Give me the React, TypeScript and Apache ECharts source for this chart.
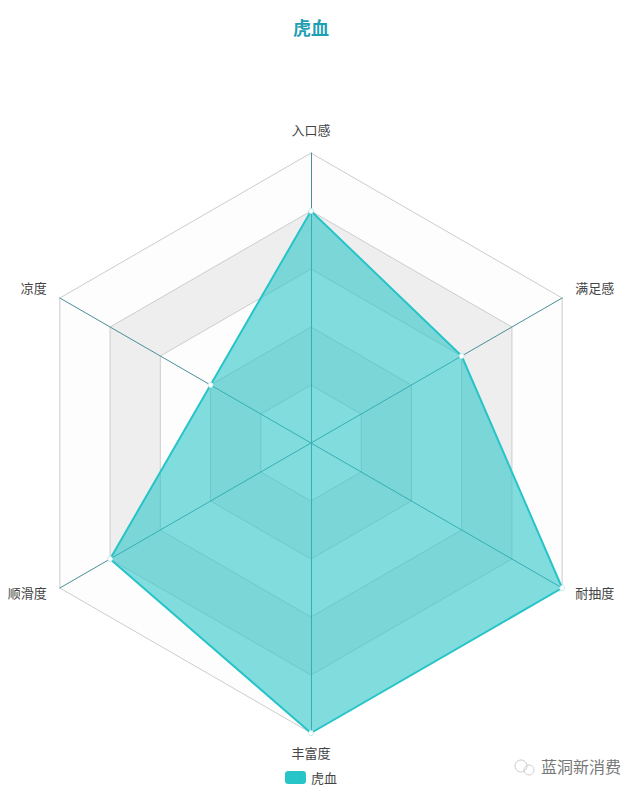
import React, { useEffect, useRef } from "react";
import * as echarts from "echarts";

const seriesName = "虎血";
const indicators = ["入口感", "凉度", "顺滑度", "丰富度", "耐抽度", "满足感"];
const sideIndicators = ["凉度", "顺滑度", "耐抽度", "满足感"];
const values = [4, 2, 4, 5, 5, 3];
const maxValue = 5;
const watermark = "蓝洞新消费";
const FONT = '"Noto Sans CJK SC", "Noto Sans", sans-serif';

export default function App() {
  const ref = useRef<HTMLDivElement>(null);
  useEffect(() => {
    const chart = echarts.init(ref.current!, null, { renderer: "svg" });
    chart.setOption({
      animation: false,
      backgroundColor: "#fff",
      title: {
        text: seriesName,
        left: 288,
        top: 13,
        textStyle: { color: "#1f9fb4", fontSize: 18, fontWeight: "bold", fontFamily: FONT },
      },
      legend: {
        data: [seriesName],
        top: 766,
        left: 280,
        itemWidth: 21,
        itemHeight: 13,
        itemGap: 5,
        icon: "roundRect",
        itemStyle: { color: "#27c4c8", borderWidth: 0 },
        textStyle: { color: "#444", fontSize: 13, fontFamily: FONT },
      },
      radar: {
        center: [311, 443],
        radius: 290,
        startAngle: 90,
        splitNumber: 5,
        indicator: indicators.map((name) => ({ name, max: maxValue, min: 0 })),
        axisName: {
          color: "#444",
          fontSize: 13,
          fontFamily: FONT,
          padding: [-2, 0, 2, 0],
          formatter: (name: string) =>
            sideIndicators.includes(name) ? `{t|${name}}\n{s| }` : `{t|${name}}`,
          rich: {
            t: { color: "#444", fontSize: 13, fontFamily: FONT },
            s: { fontSize: 2, lineHeight: 2 },
          },
        },
        nameGap: 15,
        axisLine: { lineStyle: { color: "#4a8f98", width: 1 } },
        axisTick: { show: false },
        splitLine: { lineStyle: { color: "#ccc", width: 1 } },
        splitArea: {
          show: true,
          areaStyle: { color: ["rgba(250,250,250,0.3)", "rgba(200,200,200,0.3)"] },
        },
      },
      series: [
        {
          name: seriesName,
          type: "radar",
          symbol: "circle",
          symbolSize: 5,
          itemStyle: { color: "#fff", borderColor: "#bfe9ea", borderWidth: 1 },
          lineStyle: { color: "#27c4c8", width: 2 },
          areaStyle: { color: "#27c4c8", opacity: 0.58 },
          data: [{ name: seriesName, value: values }],
        },
      ],
      graphic: [
        {
          type: "circle",
          shape: { cx: 521, cy: 766, r: 6 },
          style: { fill: "none", stroke: "#ccc", lineWidth: 1 },
        },
        {
          type: "circle",
          shape: { cx: 529, cy: 770, r: 5 },
          style: { fill: "none", stroke: "#ccc", lineWidth: 1 },
        },
        {
          type: "text",
          x: 541,
          y: 758,
          style: { text: watermark, fill: "#777", fontSize: 16, fontFamily: FONT },
        },
      ],
    });
    return () => chart.dispose();
  }, []);
  return <div ref={ref} style={{ width: 640, height: 795, position: "absolute", left: 0, top: 0 }} />;
}
